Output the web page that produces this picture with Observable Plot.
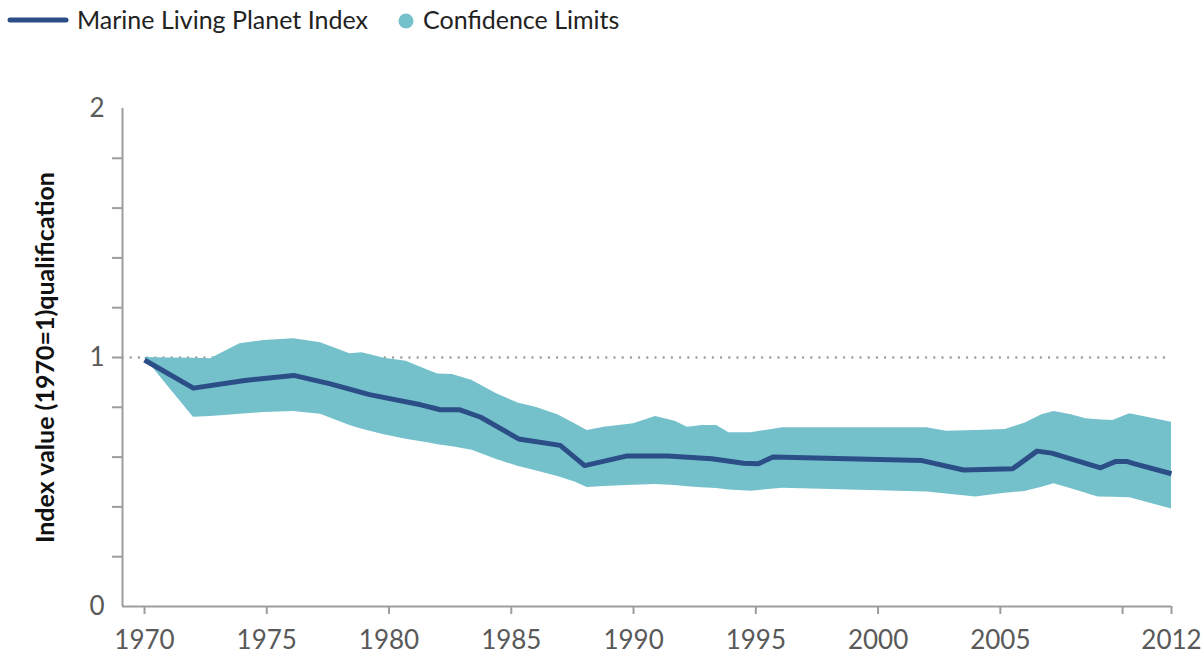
<!DOCTYPE html>
<html><head><meta charset="utf-8">
<script src="https://cdn.jsdelivr.net/npm/d3@7"></script>
<script src="https://cdn.jsdelivr.net/npm/@observablehq/plot@0.6"></script>
<style>
body{margin:0;background:#fff;font-family:Lato,sans-serif;}
#legend{height:46px;}
#legend svg{display:block;}
g[aria-label="y-axis label"] text{font-weight:700;fill:#111;font-size:25px;}
</style></head><body>
<div id="legend"></div>
<div id="chart"></div>
<script>
// Marine Living Planet Index (1970 = 1)
const lineYears  = [1970, 1972.0, 1974.1, 1976.1, 1977.6, 1979.2, 1981.3, 1982.1, 1982.9, 1983.75, 1985.3, 1987.0, 1988.0, 1989.7, 1991.4, 1993.2, 1994.5, 1995.1, 1995.7, 2001.8, 2003.5, 2005.5, 2006.5, 2007.1, 2009.1, 2009.7, 2010.2, 2010.5, 2012];
const lineValues = [0.99, 0.877, 0.908, 0.928, 0.894, 0.851, 0.81, 0.79, 0.79, 0.76, 0.673, 0.647, 0.566, 0.604, 0.604, 0.593, 0.575, 0.573, 0.60, 0.586, 0.548, 0.553, 0.624, 0.616, 0.557, 0.582, 0.582, 0.573, 0.533];

// Confidence limits
const bandYears = [1970, 1971, 1972, 1972.7, 1973.4, 1973.9, 1974.9, 1976.1, 1977.2, 1978.4, 1978.9, 1979.8, 1980.7, 1981.7, 1982.0, 1982.6, 1983.4, 1984.4, 1985.3, 1986.0, 1986.9, 1987.6, 1988.1, 1988.8, 1990.0, 1990.9, 1991.7, 1992.2, 1992.8, 1993.4, 1993.9, 1994.8, 1996.1, 2002.0, 2002.8, 2004.0, 2005.2, 2006.0, 2006.7, 2007.2, 2007.9, 2008.5, 2009.0, 2009.6, 2010.3, 2012];
const bandUpper = [1.0, 0.998, 0.997, 0.995, 1.03, 1.055, 1.068, 1.075, 1.059, 1.015, 1.019, 0.997, 0.985, 0.945, 0.934, 0.932, 0.908, 0.854, 0.816, 0.80, 0.77, 0.734, 0.707, 0.72, 0.734, 0.763, 0.744, 0.72, 0.727, 0.727, 0.698, 0.698, 0.718, 0.718, 0.704, 0.707, 0.711, 0.736, 0.77, 0.783, 0.77, 0.754, 0.75, 0.747, 0.774, 0.74];
const bandLower = [1.0, 0.88, 0.76, 0.763, 0.768, 0.772, 0.779, 0.783, 0.772, 0.727, 0.712, 0.69, 0.672, 0.656, 0.65, 0.642, 0.628, 0.59, 0.562, 0.545, 0.522, 0.50, 0.478, 0.482, 0.487, 0.49, 0.486, 0.481, 0.477, 0.474, 0.468, 0.463, 0.475, 0.46, 0.452, 0.44, 0.455, 0.462, 0.479, 0.493, 0.473, 0.455, 0.44, 0.439, 0.437, 0.392];

const xTicks = [1970, 1975, 1980, 1985, 1990, 1995, 2000, 2005, 2010, 2012];
const xTickLabels = ["1970", "1975", "1980", "1985", "1990", "1995", "2000", "2005", "", "2012"];
const yMinorTicks = [0.2, 0.4, 0.6, 0.8, 1.0, 1.2, 1.4, 1.6, 1.8];
const yLabelTicks = [0, 1, 2];
const yTickLabels = ["0", "1", "2"];
const seriesNames = ["Marine Living Planet Index", "Confidence Limits"];
const yTitle = "Index value (1970=1)qualification";
const xStart = 1969.1, xEnd = 2012, yMax = 2, baselineValue = 1;

const C = {line: "#2b4e87", band: "#74c1cb", axis: "#9d9d9d", text: "#595959", dots: "#9a9a9a"};

// Legend
const lg = d3.select("#legend").append("svg").attr("width", 1202).attr("height", 46);
lg.append("line").attr("x1", 10).attr("x2", 66).attr("y1", 20).attr("y2", 20)
  .attr("stroke", C.line).attr("stroke-width", 5).attr("stroke-linecap", "round");
lg.append("text").attr("x", 77).attr("y", 29).attr("font-size", 25).attr("fill", "#222")
  .attr("font-family", "Lato, sans-serif").text(seriesNames[0]);
lg.append("circle").attr("cx", 406).attr("cy", 21).attr("r", 7.5).attr("fill", C.band);
lg.append("text").attr("x", 423).attr("y", 29).attr("font-size", 25).attr("fill", "#222")
  .attr("font-family", "Lato, sans-serif").text(seriesNames[1]);

const lineData = lineYears.map((x, i) => ({x, y: lineValues[i]}));
const bandData = bandYears.map((x, i) => ({x, hi: bandUpper[i], lo: bandLower[i]}));
const refData = [{x: xStart, y: baselineValue}, {x: xEnd, y: baselineValue}];

const chart = Plot.plot({
  width: 1202, height: 613,
  marginTop: 62, marginBottom: 53, marginLeft: 122, marginRight: 31,
  x: {domain: [xStart, xEnd]},
  y: {domain: [0, yMax]},
  style: {fontFamily: "Lato, sans-serif", fontSize: "26px", color: C.text, background: "white", overflow: "visible"},
  marks: [
    Plot.lineY(refData, {x: "x", y: "y", stroke: C.dots, strokeWidth: 2.4, strokeDasharray: "0,8.2", strokeLinecap: "round"}),
    Plot.areaY(bandData, {x: "x", y1: "lo", y2: "hi", fill: C.band}),
    Plot.lineY(lineData, {x: "x", y: "y", stroke: C.line, strokeWidth: 5, strokeLinecap: "butt"}),
    Plot.ruleX([xStart], {y1: 0, y2: yMax, stroke: C.axis, strokeWidth: 2}),
    Plot.ruleY([0], {x1: xStart, x2: xEnd, stroke: C.axis, strokeWidth: 2}),
    Plot.axisX({ticks: xTicks, tickFormat: d => xTickLabels[xTicks.indexOf(d)], tickSize: 8, tickPadding: 16,
      stroke: C.axis, strokeWidth: 2, color: C.text, label: null}),
    Plot.axisY({ticks: yMinorTicks, tickSize: 10, stroke: C.axis, strokeWidth: 2, text: null, label: null}),
    Plot.axisY({ticks: yLabelTicks, tickFormat: d => yTickLabels[yLabelTicks.indexOf(d)], tickSize: 0, tickPadding: 18,
      color: C.text, label: yTitle, labelArrow: "none", labelAnchor: "center", labelOffset: 86})
  ]
});
document.getElementById("chart").appendChild(chart);
</script>
</body></html>
